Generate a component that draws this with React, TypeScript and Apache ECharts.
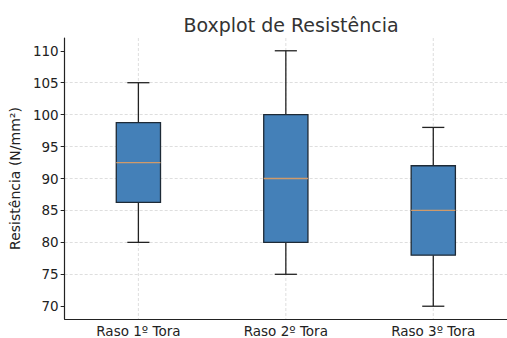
import React, { useEffect, useRef } from "react";
import * as echarts from "echarts";

const categories = ["Raso 1º Tora", "Raso 2º Tora", "Raso 3º Tora"];
const mins = [80, 75, 70];
const q1s = [86.25, 80, 78];
const medians = [92.5, 90, 85];
const q3s = [98.75, 100, 92];
const maxs = [105, 110, 98];
const yTicks = [70, 75, 80, 85, 90, 95, 100, 105, 110];
const yMin = 68;
const yMax = 112;

const FONT = "DejaVu Sans";

export default function App() {
  const ref = useRef<HTMLDivElement>(null);
  useEffect(() => {
    document.body.style.margin = "0";
    const chart = echarts.init(ref.current!, null, { renderer: "svg" });
    const data = categories.map((_, i) => [i, mins[i], q1s[i], medians[i], q3s[i], maxs[i]]);
    chart.setOption({
      animation: false,
      backgroundColor: "#ffffff",
      title: {
        text: "Boxplot de Resistência",
        left: 286,
        top: 10,
        textAlign: "center",
        textStyle: { fontFamily: FONT, fontSize: 19, fontWeight: "normal", color: "#333333" },
      },
      grid: { left: 63, right: -3, top: 38, bottom: 19, containLabel: false },
      xAxis: {
        type: "category",
        data: categories,
        boundaryGap: true,
        axisLine: { lineStyle: { color: "#222222", width: 1.2 } },
        axisTick: { alignWithLabel: true, length: 4, lineStyle: { color: "#222222" } },
        axisLabel: { fontFamily: FONT, fontSize: 13.5, color: "#222222", margin: 5 },
        splitLine: { show: false },
      },
      yAxis: {
        type: "value",
        min: yMin,
        max: yMax,
        name: "Resistência (N/mm²)",
        nameLocation: "middle",
        nameRotate: 90,
        nameGap: 42,
        nameTextStyle: { fontFamily: FONT, fontSize: 14, color: "#222222" },
        axisLine: { show: true, lineStyle: { color: "#222222", width: 1.2 } },
        axisTick: { show: true, length: 4, customValues: yTicks, lineStyle: { color: "#222222" } },
        axisLabel: { fontFamily: FONT, fontSize: 13.5, color: "#222222", margin: 6, customValues: yTicks },
        splitLine: {
          show: true,
          showMinLine: false,
          showMaxLine: false,
          lineStyle: { color: "#d6d6d6", type: [3, 2], width: 0.8 },
        },
      },
      series: [
        {
          type: "custom",
          data,
          encode: { x: 0, y: [1, 2, 3, 4, 5] },
          renderItem: (params: any, api: any) => {
            const x = api.value(0);
            const band = api.size([1, 0])[0];
            const boxHalf = band * 0.15;
            const capHalf = band * 0.075;
            const pMin = api.coord([x, api.value(1)]);
            const pQ1 = api.coord([x, api.value(2)]);
            const pMed = api.coord([x, api.value(3)]);
            const pQ3 = api.coord([x, api.value(4)]);
            const pMax = api.coord([x, api.value(5)]);
            const gTop = api.coord([x, yMax]);
            const gBot = api.coord([x, yMin]);
            const cx = pMin[0];
            const lineStyle = { stroke: "#222222", lineWidth: 1.3 };
            return {
              type: "group",
              children: [
                {
                  type: "line",
                  shape: { x1: cx, y1: gTop[1], x2: cx, y2: gBot[1] },
                  style: { stroke: "#d6d6d6", lineWidth: 0.8, lineDash: [3, 2] },
                },
                { type: "line", shape: { x1: cx, y1: pMin[1], x2: cx, y2: pQ1[1] }, style: lineStyle },
                { type: "line", shape: { x1: cx, y1: pQ3[1], x2: cx, y2: pMax[1] }, style: lineStyle },
                { type: "line", shape: { x1: cx - capHalf, y1: pMin[1], x2: cx + capHalf, y2: pMin[1] }, style: lineStyle },
                { type: "line", shape: { x1: cx - capHalf, y1: pMax[1], x2: cx + capHalf, y2: pMax[1] }, style: lineStyle },
                {
                  type: "rect",
                  shape: { x: cx - boxHalf, y: pQ3[1], width: boxHalf * 2, height: pQ1[1] - pQ3[1] },
                  style: { fill: "#4480b8", stroke: "#1e2a36", lineWidth: 1.3 },
                },
                {
                  type: "line",
                  shape: { x1: cx - boxHalf, y1: pMed[1], x2: cx + boxHalf, y2: pMed[1] },
                  style: { stroke: "#d09a6a", lineWidth: 1.3 },
                },
              ],
            };
          },
        },
      ],
    });
    return () => chart.dispose();
  }, []);
  return <div ref={ref} style={{ width: 507, height: 338 }} />;
}
